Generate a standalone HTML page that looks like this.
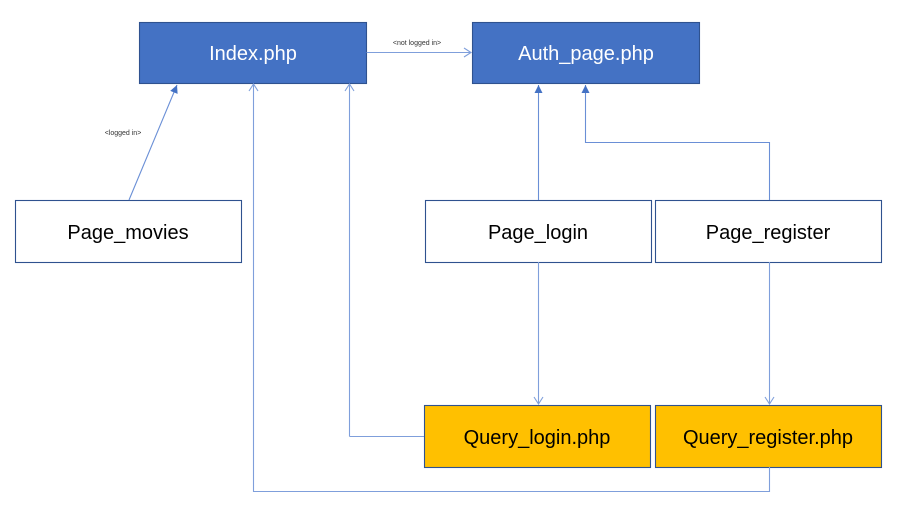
<!DOCTYPE html>
<html><head><meta charset="utf-8"><style>
body{margin:0;background:#fff;width:913px;height:520px;overflow:hidden;font-family:"Liberation Sans","DejaVu Sans",sans-serif}
</style></head><body>
<svg width="913" height="520" xmlns="http://www.w3.org/2000/svg">
<defs>
<marker id="f" markerWidth="10" markerHeight="10" refX="9" refY="5" orient="auto" markerUnits="userSpaceOnUse"><path d="M1,1 L9,5 L1,9 Z" fill="#4472c4"/></marker>
</defs>
<g stroke="#4472c4" stroke-width="1.1" fill="none">
<rect x="139.5" y="22.5" width="227" height="61" fill="#4472c4" stroke="#2f528f"/>
<rect x="472.5" y="22.5" width="227" height="61" fill="#4472c4" stroke="#2f528f"/>
<rect x="15.5" y="200.5" width="226" height="62" fill="#fff" stroke="#2f528f"/>
<rect x="425.5" y="200.5" width="226" height="62" fill="#fff" stroke="#2f528f"/>
<rect x="655.5" y="200.5" width="226" height="62" fill="#fff" stroke="#2f528f"/>
<rect x="424.5" y="405.5" width="226" height="62" fill="#ffc000" stroke="#2f528f"/>
<rect x="655.5" y="405.5" width="226" height="62" fill="#ffc000" stroke="#2f528f"/>
</g>
<g stroke="#7f9fdb" stroke-width="1.1" fill="none">
<path d="M366.5 52.5 H471"/><path d="M464 48 L471 52.5 L464 57"/>
<path d="M349.5 436.5 H424 M349.5 436.5 V84"/><path d="M345 91 L349.5 84 L354 91"/>
<path d="M769.5 467 V491.5 H253.5 V84"/><path d="M249 91 L253.5 84 L258 91"/>
<path d="M538.5 262 V404"/><path d="M534 397 L538.5 404 L543 397"/>
<path d="M769.5 262 V404"/><path d="M765 397 L769.5 404 L774 397"/>
</g>
<g stroke="#6a8fd6" stroke-width="1.1" fill="none">
<path d="M129 200 L177 85" marker-end="url(#f)"/>
<path d="M538.5 200 V85" marker-end="url(#f)"/>
<path d="M769.5 200 V142.5 H585.5 V85" marker-end="url(#f)"/>
</g>
<g font-family="Liberation Sans, DejaVu Sans, sans-serif" font-size="20" text-anchor="middle">
<text x="253" y="60" fill="#fff">Index.php</text>
<text x="586" y="60" fill="#fff">Auth_page.php</text>
<text x="128" y="239" fill="#000">Page_movies</text>
<text x="538" y="239" fill="#000">Page_login</text>
<text x="768" y="239" fill="#000">Page_register</text>
<text x="537" y="444" fill="#000">Query_login.php</text>
<text x="768" y="444" fill="#000">Query_register.php</text>
<text x="417" y="45" font-size="7" fill="#333">&lt;not logged in&gt;</text>
<text x="123" y="135" font-size="7" fill="#333">&lt;logged in&gt;</text>
</g>
</svg>
</body></html>
